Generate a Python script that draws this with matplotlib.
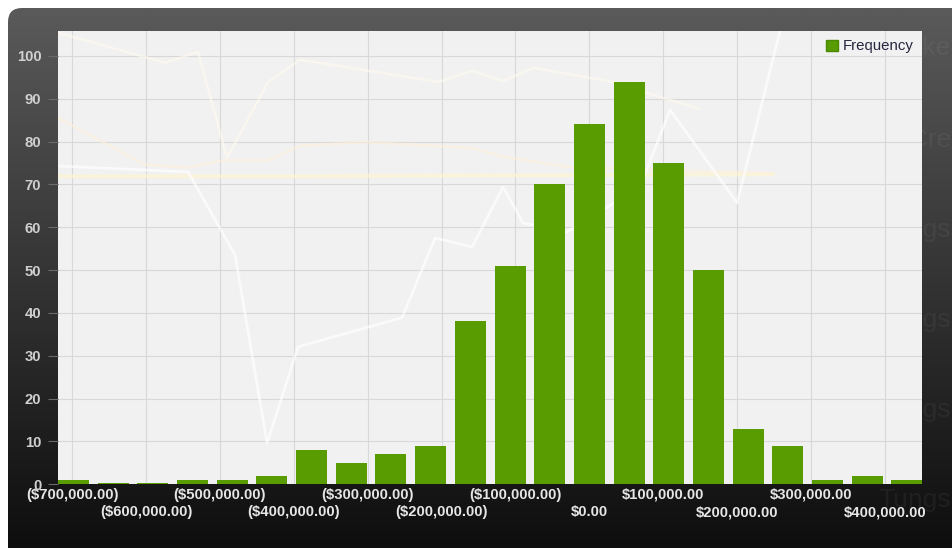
import numpy as np
import matplotlib
matplotlib.use('Agg')
import matplotlib.pyplot as plt
from matplotlib.patches import FancyBboxPatch, Patch

plt.rcParams['font.family'] = ['Liberation Sans', 'DejaVu Sans']

# histogram bins (centre of each bin, in dollars) and counts
bin_centers = [-698100, -644400, -590700, -537000, -483300, -429600, -375900,
               -322200, -268500, -214800, -161100, -107400, -53700, 0,
               53700, 107400, 161100, 214800, 268500, 322200, 375900, 429600]
frequency = [1, 0.3, 0.3, 1, 1, 2, 8, 5, 7, 9, 38, 51, 70, 84, 94, 75, 50,
             13, 9, 1, 2, 1]
bin_width = 42000

row1_ticks = [-700000, -500000, -300000, -100000, 100000, 300000]
row2_ticks = [-600000, -400000, -200000, 0, 200000, 400000]
y_ticks = list(range(0, 101, 10))

# faint lines showing through from the window behind
ghost_white_x = [-719000, -543000, -479400, -436100, -394200, -253500, -208800,
                 -158700, -116800, -89700, -30200, 68600, 109200, 199900,
                 248600, 258100]
ghost_white_y = [74.3, 72.9, 53.5, 9.6, 32.1, 38.9, 57.5, 55.4, 69.4, 61.0,
                 58.9, 69.4, 87.4, 65.7, 99.5, 105.8]
ghost_top_x = [-719000, -574000, -529500, -490300, -434800, -391500, -204700,
               -158700, -116800, -76000, 32100, 91600, 149800]
ghost_top_y = [105.4, 98.4, 100.9, 76.2, 93.9, 99.1, 93.9, 96.5, 94.1, 97.2,
               93.9, 90.6, 87.6]
ghost_mid_x = [-719000, -601200, -543000, -497000, -434800, -391500, -303500,
               -158700, -116800, -30200, 248600]
ghost_mid_y = [85.5, 74.6, 73.9, 75.6, 75.6, 79.0, 79.9, 78.5, 76.5, 74.1, 72.6]
ghost_band_x = [-719000, -391500, -120000, 248600]
ghost_band_y = [71.9, 71.9, 72.1, 72.4]
ghost_words = ['Marke', 'T_Cre', 'Tungs', 'Tungs', 'Tungs', 'Tungs']


def money(v):
    if v < 0:
        return '(${:,.2f})'.format(-v)
    return '${:,.2f}'.format(v)


W, H = 953, 548
fig = plt.figure(figsize=(W / 100, H / 100), dpi=100)
fig.patch.set_facecolor('white')

# dark panel with a vertical gradient and a rounded top-left corner
bg = fig.add_axes([0, 0, 1, 1], zorder=-10)
bg.set_xlim(0, W)
bg.set_ylim(H, 0)
bg.axis('off')
grad = np.linspace(0, 1, 256).reshape(-1, 1)
top = np.array([0x5a, 0x5a, 0x5a]) / 255
bottom = np.array([0x0b, 0x0b, 0x0b]) / 255
img = top + (bottom - top) * grad[..., None]
im = bg.imshow(np.repeat(img, 2, axis=1), extent=[8, W + 20, H + 20, 8],
               aspect='auto', interpolation='bilinear')
panel = FancyBboxPatch((8, 8), W + 12, H + 12,
                       boxstyle='round,pad=0,rounding_size=14',
                       transform=bg.transData, facecolor='none',
                       edgecolor='none')
bg.add_patch(panel)
im.set_clip_path(panel)

# faint reflected words on the right edge, hidden behind the plot area
for word, yy in zip(ghost_words, [48, 140, 230, 320, 410, 500]):
    bg.text(878, yy, word, color='white', alpha=0.05,
            fontsize=19, va='center', ha='left')

ax = fig.add_axes([58 / W, 1 - 484.3 / H, (922 - 58) / W, (484.3 - 31) / H])
ax.set_facecolor('#f1f1f1')
ax.set_xlim(-719000, 450000)
ax.set_ylim(0, 105.8)

for gx, gy, col, lw, a in [(ghost_band_x, ghost_band_y, '#fff6cf', 3.0, 0.6),
                           (ghost_mid_x, ghost_mid_y, '#fff0dc', 1.8, 0.6),
                           (ghost_top_x, ghost_top_y, '#fffbee', 1.8, 0.6),
                           (ghost_white_x, ghost_white_y, '#ffffff', 2.0, 0.65)]:
    ax.plot(gx, gy, color=col, lw=lw, alpha=a, zorder=1, solid_capstyle='round')

ax.bar(bin_centers, frequency, width=bin_width, color='#589c02',
       zorder=3, label='Frequency')

ax.set_axisbelow(True)
ax.set_xticks(row1_ticks)
ax.set_xticks(row2_ticks, minor=True)
ax.set_xticklabels([money(v) for v in row1_ticks])
ax.set_xticklabels([money(v) for v in row2_ticks], minor=True)
ax.set_yticks(y_ticks)
ax.grid(True, which='both', axis='x', color='#d8d8d8', lw=0.8)
ax.grid(True, which='major', axis='y', color='#d8d8d8', lw=0.8)

ax.tick_params(axis='x', which='major', length=0, pad=2.5, labelsize=10.7,
               labelcolor='#e6e6e6')
ax.tick_params(axis='x', which='minor', length=0, pad=15.0, labelsize=10.7,
               labelcolor='#e6e6e6')
ax.tick_params(axis='y', length=7, width=0.8, color='#6a6a6a', pad=5.0,
               labelsize=10.7, labelcolor='#d0d0d0')
for lab in ax.get_xticklabels(which='both') + ax.get_yticklabels():
    lab.set_fontweight('bold')
for s in ax.spines.values():
    s.set_visible(False)

leg = ax.legend(handles=[Patch(facecolor='#589c02', edgecolor='#4a8a00',
                               label='Frequency')],
                loc='upper right', frameon=False, fontsize=10.8,
                handlelength=0.75, handleheight=0.75, handletextpad=0.35,
                borderaxespad=0.25, borderpad=0.3)
for t in leg.get_texts():
    t.set_color('#262640')

fig.savefig('out.png', dpi=100, facecolor=fig.get_facecolor())
